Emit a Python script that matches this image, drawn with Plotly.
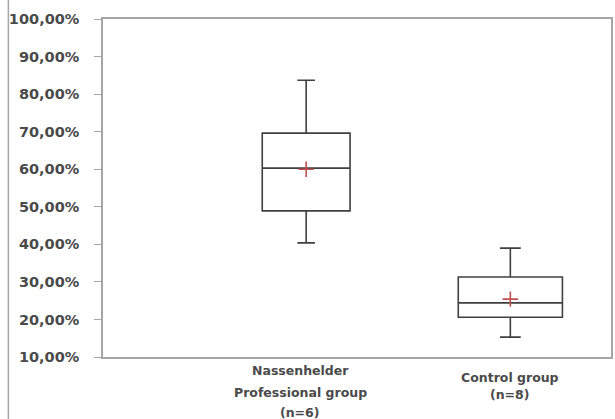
import plotly.graph_objects as go

# ---- data ----
groups = ["Nassenhelder Professional group (n=6)", "Control group (n=8)"]
label_lines = [["Nassenhelder", "Professional group", "(n=6)"], ["Control group", "(n=8)"]]
q_min = [0.404, 0.153]
q1 = [0.489, 0.206]
median = [0.603, 0.244]
q3 = [0.696, 0.313]
q_max = [0.837, 0.390]
mean = [0.600, 0.254]
y_ticks = [0.1, 0.2, 0.3, 0.4, 0.5, 0.6, 0.7, 0.8, 0.9, 1.0]

# ---- layout constants ----
W, H = 615, 419
L, R, T, B = 103, 2, 19, 62
plot_h = H - T - B
box_widths = [0.43, 0.51]
ink = "#404040"
text_col = "#4a4a4a"
font_family = "DejaVu Sans"

def py_to_paper(py):
    return (H - B - py) / plot_h

fig = go.Figure()
xs = list(range(len(groups)))
for i, g in enumerate(groups):
    fig.add_trace(go.Box(
        x=[xs[i]], q1=[q1[i]], median=[median[i]], q3=[q3[i]],
        lowerfence=[q_min[i]], upperfence=[q_max[i]],
        width=box_widths[i], whiskerwidth=0.2,
        fillcolor="white", line=dict(color=ink, width=1.6),
        boxpoints=False, name=g, showlegend=False, hoverinfo="skip",
    ))

fig.add_trace(go.Scatter(
    x=xs, y=mean, mode="markers", showlegend=False,
    marker=dict(symbol="cross-thin", size=11, color="#c0504d",
                line=dict(color="#c0504d", width=1.6)),
))

# category labels, line by line
line_pix = [[370, 392, 412], [377, 394]]
ann = []
for i, lines in enumerate(label_lines):
    for j, t in enumerate(lines):
        ann.append(dict(x=xs[i] - (0.03 if i == 0 else 0), xref="x",
                        y=py_to_paper(line_pix[i][j]), yref="paper",
                        yanchor="middle", xanchor="center", showarrow=False,
                        text=t, font=dict(family=font_family, size=12.5,
                                          color=text_col, weight="bold")))

fig.update_layout(
    width=W, height=H,
    margin=dict(l=L, r=R, t=T, b=B, pad=0),
    paper_bgcolor="white", plot_bgcolor="white",
    separators=",.",
    annotations=ann,
    shapes=[dict(type="line", xref="paper", yref="paper",
                 x0=(8 - L) / (W - L - R), x1=(8 - L) / (W - L - R),
                 y0=py_to_paper(0), y1=py_to_paper(H),
                 line=dict(color="#a6a6a6", width=1.5))],
    xaxis=dict(range=[-0.995, 1.493], showticklabels=False, ticks="",
               showgrid=False, zeroline=False, showline=True, mirror=True,
               linecolor="#a6a6a6", linewidth=1.5),
    yaxis=dict(range=[0.1, 1.0], tickvals=y_ticks, tickformat=".2%",
               ticks="outside", ticklen=7, tickcolor="#a6a6a6",
               ticklabelstandoff=12,
               showgrid=False, zeroline=False, showline=True, mirror=True,
               linecolor="#a6a6a6", linewidth=1.5,
               tickfont=dict(family=font_family, size=14.5, color=text_col,
                             weight="bold")),
)

fig.write_html("out.html", config={"displayModeBar": False},
               post_script="document.body.style.margin='0';document.body.style.overflow='hidden';")
